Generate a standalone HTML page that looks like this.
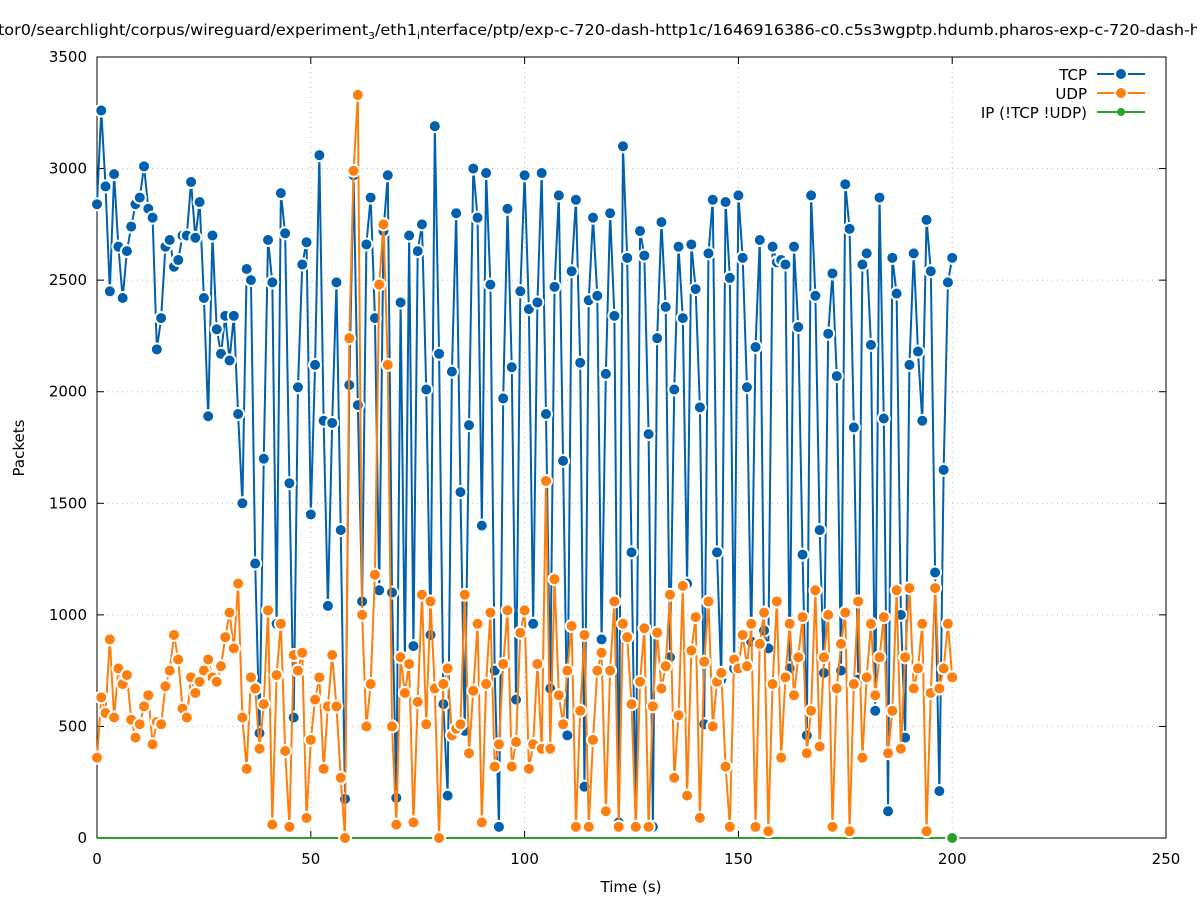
<!DOCTYPE html>
<html><head><meta charset="utf-8"><style>
body{margin:0;background:#fff;width:1197px;height:900px;overflow:hidden;font-family:"DejaVu Sans",sans-serif}
svg text{font-family:"DejaVu Sans","Liberation Sans",sans-serif}
</style></head><body>
<svg id="chart" width="1197" height="900" xmlns="http://www.w3.org/2000/svg">
<text x="-2" y="35" font-size="15" textLength="1202" lengthAdjust="spacingAndGlyphs">tor0/searchlight/corpus/wireguard/experiment<tspan font-size="10" dy="4">3</tspan><tspan dy="-4">/eth1</tspan><tspan font-size="10" dy="4">i</tspan><tspan dy="-4">nterface/ptp/exp-c-720-dash-http1c/1646916386-c0.c5s3wgptp.hdumb.pharos-exp-c-720-dash-h</tspan></text>
<g id="grid"></g>
<g id="axes"></g>
<g id="series"></g>
<text transform="translate(24,448) rotate(-90)" font-size="15" text-anchor="middle">Packets</text>
<text x="631" y="892" font-size="15" text-anchor="middle">Time (s)</text>
<g font-size="15">
 <g><text x="1087" y="80" text-anchor="end">TCP</text><line x1="1097" y1="74" x2="1145" y2="74" stroke="#0060ad" stroke-width="2"/><circle cx="1121" cy="74" r="6" fill="#0060ad" stroke="#fff" stroke-width="2"/></g>
 <g><text x="1087" y="99" text-anchor="end">UDP</text><line x1="1097" y1="93" x2="1145" y2="93" stroke="#ff7f0e" stroke-width="2"/><circle cx="1121" cy="93" r="6" fill="#ff7f0e" stroke="#fff" stroke-width="2"/></g>
 <g><text x="1087" y="118" text-anchor="end">IP (!TCP  !UDP)</text><line x1="1097" y1="112" x2="1145" y2="112" stroke="#2ca02c" stroke-width="2"/><circle cx="1121" cy="112" r="4" fill="#2ca02c"/></g>
</g>
</svg>
<script>
const xTicks=[0,50,100,150,200,250];
const yTicks=[0,500,1000,1500,2000,2500,3000,3500];
const tcp=[2840,3260,2920,2450,2975,2650,2420,2630,2740,2840,
2870,3010,2820,2780,2190,2330,2650,2680,2560,2590,
2700,2700,2940,2690,2850,2420,1890,2700,2280,2170,
2340,2140,2340,1900,1500,2550,2500,1230,470,1700,
2680,2490,960,2890,2710,1590,540,2020,2570,2670,
1450,2120,3060,1870,1040,1860,2490,1380,175,2030,
2970,1940,1060,2660,2870,2330,1110,2720,2970,1100,
180,2400,790,2700,860,2630,2750,2010,910,3190,
2170,600,190,2090,2800,1550,480,1850,3000,2780,
1400,2980,2480,750,50,1970,2820,2110,620,2450,
2970,2370,960,2400,2980,1900,670,2470,2880,1690,
460,2540,2860,2130,230,2410,2780,2430,890,2080,
2800,2340,70,3100,2600,1280,60,2720,2610,1810,
50,2240,2760,2380,810,2010,2650,2330,1140,2660,
2460,1930,510,2620,2860,1280,710,2850,2510,760,
2880,2600,2020,880,2200,2680,930,850,2650,2580,2590,
2570,760,2650,2290,1270,460,2880,2430,1380,740,
2260,2530,2070,750,2930,2730,1840,710,2570,2620,
2210,570,2870,1880,120,2600,2440,1000,450,2120,
2620,2180,1870,2770,2540,1190,210,1650,2490,2600];
const udp=[360,630,560,890,540,760,690,730,530,450,
510,590,640,420,520,510,680,750,910,800,
580,540,720,650,700,750,800,720,700,770,
900,1010,850,1140,540,310,720,670,400,600,
1020,60,730,960,390,50,820,750,830,90,
440,620,720,310,590,820,590,270,0,2240,
2990,3330,1000,500,690,1180,2480,2750,2120,500,
60,810,650,780,70,610,1090,510,1060,670,
0,690,760,460,490,510,1090,380,660,960,
70,690,1010,320,420,780,1020,320,430,920,
1020,310,420,780,400,1600,
400,1160,640,510,750,950,50,570,910,50,
440,750,830,120,750,1060,50,960,900,600,
50,700,940,50,590,920,670,770,1090,270,
550,1130,190,840,990,90,790,1060,500,700,
740,320,50,800,760,910,770,960,50,870,
1010,30,690,1060,360,720,960,640,810,990,
380,570,1110,410,810,1000,50,670,870,1010,
30,690,1060,360,720,960,640,810,990,380,
570,1110,400,810,1120,670,760,960,30,650,
1120,670,760,960,720];
const ipLast=[0];
const L=97,R=1166,T=57,B=838;
const sx=v=>L+(v-0)/(250-0)*(R-L);
const sy=v=>B-(v-0)/(3500-0)*(B-T);
const NS="http://www.w3.org/2000/svg";
function mk(tag,attrs,parent){const e=document.createElementNS(NS,tag);for(const k in attrs)e.setAttribute(k,attrs[k]);parent.appendChild(e);return e;}
const grid=document.getElementById('grid'),axes=document.getElementById('axes'),ser=document.getElementById('series');
yTicks.forEach(v=>{
 if(v>0&&v<3500){const g=mk('line',{x1:L,x2:R,y1:sy(v),y2:sy(v),stroke:'#bbb','stroke-dasharray':'1,4','stroke-width':1},grid);
 
 }
 const t=mk('text',{x:L-10,y:sy(v)+5,'font-size':15,'text-anchor':'end'},axes);t.textContent=v;
 
 
 mk('line',{x1:L,x2:L+7,y1:sy(v),y2:sy(v),stroke:'#000'},axes);
 mk('line',{x1:R,x2:R-7,y1:sy(v),y2:sy(v),stroke:'#000'},axes);
});
xTicks.forEach(v=>{
 if(v>0&&v<250){const g=mk('line',{x1:sx(v),x2:sx(v),y1:T,y2:B,stroke:'#bbb','stroke-dasharray':'1,4','stroke-width':1},grid);
 
 }
 const t=mk('text',{x:sx(v),y:B+26,'font-size':15,'text-anchor':'middle'},axes);t.textContent=v;
 
 
 mk('line',{x1:sx(v),x2:sx(v),y1:B,y2:B-7,stroke:'#000'},axes);
 mk('line',{x1:sx(v),x2:sx(v),y1:T,y2:T+7,stroke:'#000'},axes);
});
const fr=mk('rect',{x:L,y:T,width:R-L,height:B-T,fill:'none',stroke:'#000','stroke-width':1},axes);


function drawSeries(data,color,name){
 const pts=data.map((v,i)=>sx(i)+','+sy(v)).join(' ');
 const pl=mk('polyline',{points:pts,fill:'none',stroke:color,'stroke-width':2,'stroke-linejoin':'round'},ser);
 
 
 data.forEach((v,i)=>{const c=mk('circle',{cx:sx(i),cy:sy(v),r:6,fill:color,stroke:'#fff','stroke-width':2},ser);
 
 });
}
const ipData=tcp.map(()=>ipLast[0]);
const ipl=mk('polyline',{points:ipData.map((v,i)=>sx(i)+','+sy(v)).join(' '),fill:'none',stroke:'#2ca02c','stroke-width':2},ser);


drawSeries(tcp,'#0060ad','tcp');
drawSeries(udp,'#ff7f0e','udp');
const ipd=mk('circle',{cx:sx(ipData.length-1),cy:sy(ipLast[0]),r:6,fill:'#2ca02c',stroke:'#fff','stroke-width':2},ser);


</script>
</body></html>
